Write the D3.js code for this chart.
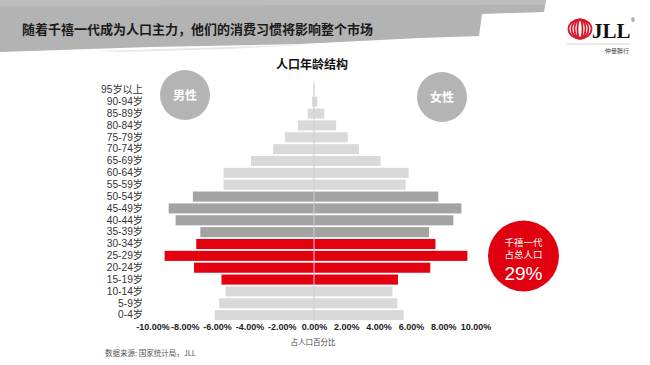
<!DOCTYPE html>
<html><head><meta charset="utf-8">
<script src="https://cdn.jsdelivr.net/npm/d3@7/dist/d3.min.js"></script>
<style>
html,body{margin:0;padding:0;background:#fff;}
svg{display:block;font-family:"Noto Sans CJK SC","Noto Sans",sans-serif;}
</style></head>
<body><svg id="c" width="650" height="365"></svg>
<script>
const categories = ["95岁以上","90-94岁","85-89岁","80-84岁","75-79岁","70-74岁","65-69岁","60-64岁","55-59岁","50-54岁","45-49岁","40-44岁","35-39岁","30-34岁","25-29岁","20-24岁","15-19岁","10-14岁","5-9岁","0-4岁"];
const male   = [0.02,0.12,0.39,1.0,1.8,2.53,3.9,5.6,5.6,7.5,9.0,8.57,7.04,7.29,9.25,7.43,5.73,5.48,5.88,6.15];
const female = [0.03,0.2,0.64,1.37,2.09,2.78,4.12,5.86,5.67,7.7,9.13,8.63,7.12,7.52,9.5,7.2,5.2,4.86,5.16,5.55];
const middleAgeGroups = ["50-54岁","45-49岁","40-44岁","35-39岁"];
const millennialGroups = ["30-34岁","25-29岁","20-24岁","15-19岁"];
const xTicks = [-10,-8,-6,-4,-2,0,2,4,6,8,10];
const title = "随着千禧一代成为人口主力，他们的消费习惯将影响整个市场";
const chartTitle = "人口年龄结构";
const xAxisTitle = "占人口百分比";
const source = "数据来源: 国家统计局，JLL";
const maleLabel = "男性", femaleLabel = "女性";
const calloutLines = ["千禧一代","占总人口"];
const calloutValue = "29%";

const svg = d3.select("#c");
const latinCjk = "\"Liberation Sans\",\"Noto Sans CJK SC\",sans-serif";

// header banner
svg.append("path").attr("d","M0,0 L546,0 L544,12 L482,14 L479,36 L420,38 L300,44 L150,47 L0,52 Z").attr("fill","#b3b3b3");
svg.append("path").attr("d","M0,0 L546,0 L545,5 L0,6 Z").attr("fill","#bdbdbd");
svg.append("path").attr("d","M95,51 L230,47 L320,44 L230,49 L120,52 Z").attr("fill","#e8e8e8");
svg.append("text").attr("x",22).attr("y",34).attr("font-size",13).attr("font-weight","bold").attr("fill","#1a1a1a").text(title);

// logo
const logo = svg.append("g");
[11.5,8.5,5.5,2.5].forEach(rx=>{
  logo.append("ellipse").attr("cx",580).attr("cy",29).attr("rx",rx).attr("ry",9.5).attr("fill","none").attr("stroke","#d7192a").attr("stroke-width",1.8);
});
logo.append("text").attr("x",592).attr("y",37.5).attr("font-family","Liberation Serif").attr("font-weight","bold").attr("font-size",21).attr("fill","#111").text("JLL");
logo.append("text").attr("x",631).attr("y",22).attr("font-size",5).attr("font-family","Liberation Sans").attr("fill","#111").text("®");
logo.append("line").attr("x1",566).attr("x2",630).attr("y1",44).attr("y2",44).attr("stroke","#ccc").attr("stroke-width",0.8);
logo.append("text").attr("x",629).attr("y",53).attr("text-anchor","end").attr("font-size",6).attr("fill","#444").text("仲量聯行");

// chart title
svg.append("text").attr("x",312).attr("y",69).attr("text-anchor","middle").attr("font-size",12).attr("font-weight","bold").attr("fill","#111").text(chartTitle);

// scales
const x = d3.scaleLinear().domain([-10,10]).range([152.5,475.5]);
const y = d3.scaleBand().domain(categories).range([84,321]).paddingInner(0.15).paddingOuter(0.07);

function color(c){
  if (millennialGroups.includes(c)) return "#e3000f";
  if (middleAgeGroups.includes(c)) return "#a3a3a3";
  return "#d9d9d9";
}

const rows = categories.map((c,i)=>({c, m:male[i], f:female[i]}));
svg.append("g").selectAll("rect.m").data(rows).join("rect")
  .attr("x",d=>x(-d.m)).attr("width",d=>x(0)-x(-d.m))
  .attr("y",d=>y(d.c)).attr("height",y.bandwidth()).attr("fill",d=>color(d.c));
svg.append("g").selectAll("rect.f").data(rows).join("rect")
  .attr("x",x(0)).attr("width",d=>x(d.f)-x(0))
  .attr("y",d=>y(d.c)).attr("height",y.bandwidth()).attr("fill",d=>color(d.c));

// center line
svg.append("line").attr("x1",x(0)).attr("x2",x(0)).attr("y1",82).attr("y2",321).attr("stroke","#cfcfcf").attr("stroke-width",1);

// y labels
const yAxis = d3.axisLeft(y).tickSize(0).tickPadding(0);
const gy = svg.append("g").attr("transform","translate(143,0)").call(yAxis);
gy.select(".domain").remove();
gy.selectAll("text").attr("font-size",10.2).attr("fill","#333").attr("font-family",latinCjk);

// x axis
const xAxis = d3.axisBottom(x).tickValues(xTicks).tickSize(0).tickPadding(0)
  .tickFormat(d=>(d<0?"-":"")+Math.abs(d).toFixed(2)+"%");
const gx = svg.append("g").attr("transform","translate(0,324)").call(xAxis);
gx.select(".domain").remove();
gx.selectAll("text").attr("font-size",9).attr("font-weight","bold").attr("fill","#222").attr("font-family","Liberation Sans, Arial, sans-serif");

svg.append("text").attr("x",313).attr("y",345).attr("text-anchor","middle").attr("font-size",7.5).attr("fill","#444").text(xAxisTitle);
svg.append("text").attr("x",105).attr("y",356).attr("font-size",7.5).attr("fill","#555").text(source);

// gender circles
[[185,95,maleLabel],[442,97,femaleLabel]].forEach(([cx,cy,t])=>{
  svg.append("circle").attr("cx",cx).attr("cy",cy).attr("r",25).attr("fill","#b4b4b4");
  svg.append("text").attr("x",cx).attr("y",cy+4.5).attr("text-anchor","middle").attr("font-size",12).attr("font-weight","bold").attr("fill","#fff").text(t);
});

// callout
svg.append("circle").attr("cx",523.5).attr("cy",256).attr("r",35.5).attr("fill","#e0000f");
svg.append("text").attr("x",523.5).attr("y",246).attr("text-anchor","middle").attr("font-size",9.5).attr("font-family",latinCjk).attr("fill","#fff").text(calloutLines[0]);
svg.append("text").attr("x",523.5).attr("y",257.5).attr("text-anchor","middle").attr("font-size",9.5).attr("font-family",latinCjk).attr("fill","#fff").text(calloutLines[1]);
svg.append("text").attr("x",523.5).attr("y",280).attr("text-anchor","middle").attr("font-size",19).attr("fill","#fff").attr("font-family","Liberation Sans, Arial, sans-serif").text(calloutValue);
</script></body></html>
